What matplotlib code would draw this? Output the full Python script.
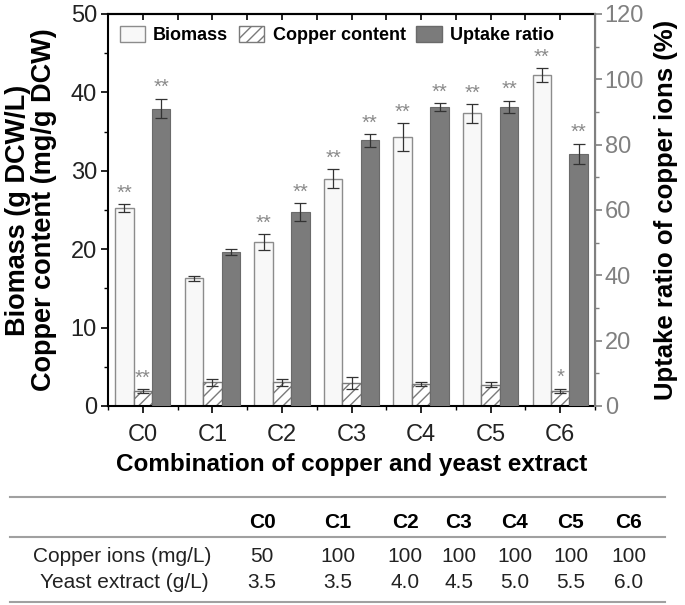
import matplotlib.pyplot as plt
import numpy as np
from matplotlib.lines import Line2D
from matplotlib.patches import Patch
from matplotlib.ticker import MultipleLocator

plt.rcParams['font.family'] = ['Liberation Sans', 'DejaVu Sans']

conditions = ["C0", "C1", "C2", "C3", "C4", "C5", "C6"]
biomass = [25.2, 16.3, 20.9, 29.0, 34.3, 37.3, 42.2]
biomass_err = [0.5, 0.3, 1.0, 1.2, 1.8, 1.2, 0.9]
copper = [1.9, 3.0, 3.0, 2.9, 2.8, 2.7, 1.9]
copper_err = [0.2, 0.5, 0.5, 0.8, 0.3, 0.3, 0.3]
uptake = [91.0, 47.1, 59.3, 81.3, 91.4, 91.6, 77.2]
uptake_err = [3.0, 1.0, 2.7, 1.9, 1.2, 1.8, 3.0]
biomass_sig = ["**", "", "**", "**", "**", "**", "**"]
copper_sig = ["**", "", "", "", "", "", "*"]
uptake_sig = ["**", "", "**", "**", "**", "**", "**"]

copper_ions = ["50", "100", "100", "100", "100", "100", "100"]
yeast_extract = ["3.5", "3.5", "4.0", "4.5", "5.0", "5.5", "6.0"]

fig = plt.figure(figsize=(6.85, 6.05), dpi=100)
ax = fig.add_axes([0.1577, 0.329, 0.7109, 0.648])
ax2 = ax.twinx()

x = np.arange(len(conditions))
w = 0.265
ekw = dict(ecolor="#333333", elinewidth=0.9, capsize=4, capthick=0.9)

ax.bar(x - w, biomass, w, yerr=biomass_err, color="#f8f8f8",
       edgecolor="#8c8c8c", linewidth=1.0, error_kw=ekw, zorder=2)
ax.bar(x, copper, w, yerr=copper_err, color="white", edgecolor="#7a7a7a",
       hatch="///", linewidth=1.0, error_kw=ekw, zorder=2)
ax2.bar(x + w, uptake, w, yerr=uptake_err, color="#7b7b7b",
        edgecolor="#6a6a6a", linewidth=0.8, error_kw=ekw, zorder=2)

star_kw = dict(ha="center", va="bottom", color="#8a8a8a", fontsize=14.5)
for i in range(len(conditions)):
    if biomass_sig[i]:
        ax.text(x[i] - w, biomass[i] + biomass_err[i] + 0.2, biomass_sig[i], **star_kw)
    if copper_sig[i]:
        ax.text(x[i], copper[i] + copper_err[i] + 0.2, copper_sig[i], **star_kw)
    if uptake_sig[i]:
        ax2.text(x[i] + w, uptake[i] + uptake_err[i] + 0.5, uptake_sig[i], **star_kw)

ax.set_xlim(-0.5, 6.5)
ax.set_ylim(0, 50)
ax2.set_ylim(0, 120)
ax.set_xticks(x)
ax.set_xticklabels(conditions)
ax.xaxis.set_minor_locator(MultipleLocator(0.5))
ax.yaxis.set_major_locator(MultipleLocator(10))
ax.yaxis.set_minor_locator(MultipleLocator(5))
ax2.yaxis.set_major_locator(MultipleLocator(20))
ax2.yaxis.set_minor_locator(MultipleLocator(10))

ax.tick_params(axis="both", which="major", length=5, width=1.2, labelcolor="#222222")
ax.tick_params(axis="x", which="major", labelsize=17, pad=8)
ax.tick_params(axis="y", which="major", labelsize=17, pad=3)
ax.tick_params(axis="both", which="minor", length=3, width=1.0)
ax2.tick_params(axis="y", which="major", labelsize=17, length=5, width=1.2,
                colors="#808080", pad=2)
ax2.tick_params(axis="y", which="minor", length=3, width=1.0, colors="#808080")

# inward ticks along the top spine
top = ax.secondary_xaxis("top")
top.set_xticks(x)
top.xaxis.set_minor_locator(MultipleLocator(0.5))
top.tick_params(axis="x", which="both", direction="in", labeltop=False,
                length=4, width=1.2)
top.spines["top"].set_linewidth(1.5)

for s in ["left", "bottom", "top"]:
    ax.spines[s].set_linewidth(1.5)
ax2.spines["right"].set_color("#808080")
ax2.spines["right"].set_linewidth(1.5)
for s in ["left", "bottom", "top"]:
    ax2.spines[s].set_visible(False)

ax.set_ylabel("Biomass (g DCW/L)\nCopper content (mg/g DCW)", fontsize=19.5,
              fontweight="bold", labelpad=10, linespacing=1.0)
ax2.set_ylabel("Uptake ratio of copper ions (%)", fontsize=18.5,
               fontweight="bold", labelpad=7)
ax.set_xlabel("Combination of copper and yeast extract", fontsize=17.5,
              fontweight="bold", labelpad=5)

handles = [
    Patch(facecolor="#f8f8f8", edgecolor="#8c8c8c", label="Biomass"),
    Patch(facecolor="white", edgecolor="#7a7a7a", hatch="///", label="Copper content"),
    Patch(facecolor="#7b7b7b", edgecolor="#6a6a6a", label="Uptake ratio"),
]
ax2.legend(handles=handles, loc="upper left", ncol=3, frameon=False,
           prop=dict(weight="bold", size=13), handlelength=1.4,
           handleheight=1.05, columnspacing=0.6, handletextpad=0.45,
           borderaxespad=0.25, bbox_to_anchor=(0.0, 1.0))

# condition table below the chart
W, H = 685.0, 605.0
line_kw = dict(color="#a0a0a0", linewidth=1.5, transform=fig.transFigure)
for yy in [497, 537, 602]:
    fig.add_artist(Line2D([10 / W, 665 / W], [1 - yy / H, 1 - yy / H], **line_kw))

col_x = [262, 338, 405, 459, 515, 571, 629]
for cx, c, cu, ye in zip(col_x, conditions, copper_ions, yeast_extract):
    fig.text(cx / W, 1 - 522 / H, c, ha="center", va="center",
             fontsize=15, fontweight="bold")
    fig.text(cx / W, 1 - 557 / H, cu, ha="center", va="center",
             fontsize=15, color="#222222")
    fig.text(cx / W, 1 - 582 / H, ye, ha="center", va="center",
             fontsize=15, color="#222222")
fig.text(122 / W, 1 - 557 / H, "Copper ions (mg/L)", ha="center", va="center",
         fontsize=15, color="#222222")
fig.text(124 / W, 1 - 582 / H, "Yeast extract (g/L)", ha="center", va="center",
         fontsize=15, color="#222222")

fig.savefig("out.png", dpi=100)
